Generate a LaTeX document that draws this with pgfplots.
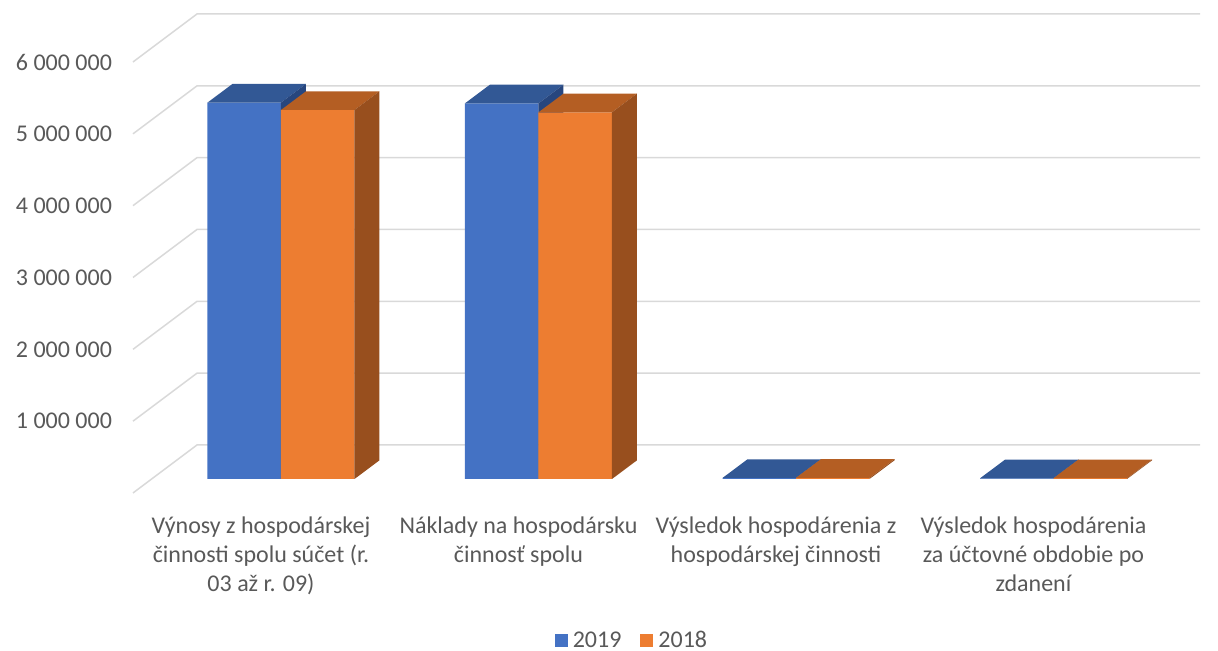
\documentclass[border=0pt]{standalone}
\usepackage{pgfplots}
\usepackage{pgfplotstable}
\pgfplotsset{compat=1.18}
\usepackage{fontspec}
\setmainfont{Carlito}
\definecolor{c19}{HTML}{4472C4}
\definecolor{c19t}{HTML}{325895}
\definecolor{c19s}{HTML}{27467E}
\definecolor{c18}{HTML}{ED7D31}
\definecolor{c18t}{HTML}{B45E23}
\definecolor{c18s}{HTML}{984F1E}
\definecolor{gridc}{HTML}{D9D9D9}
\definecolor{txtc}{HTML}{595959}

\pgfplotstableread{
cat v2019 v2018
0 5240000 5137000
1 5230000 5105000
2 14000 16000
3 9000 11000
}\barsdata

% top and side faces of a 3-D bar: #1 left x, #2 value, #3 top colour, #4 side colour
\newcommand\barfaces[4]{%
  \addplot[fill=#3, draw=none, forget plot] table[row sep=\\,
     x expr={#1+73.5*\thisrow{a}+25*\thisrow{b}},
     y expr={#2+260000*\thisrow{b}}] {a b\\ 0 0\\ 1 0\\ 1 1\\ 0 1\\};
  \addplot[fill=#4, draw=none, forget plot] table[row sep=\\,
     x expr={#1+73.5+25*\thisrow{b}},
     y expr={#2*\thisrow{c}+260000*\thisrow{b}}] {b c\\ 0 0\\ 1 0\\ 1 1\\ 0 1\\};
}

\begin{document}
\begin{tikzpicture}
\begin{axis}[
  scale only axis, width=533.5pt, height=239.5pt,
  xmin=133, xmax=1200, ymin=-194900, ymax=6473300,
  clip=false,
  axis line style={draw=none}, tick style={draw=none},
  scaled y ticks=false,
  ytick={805100,1805100,2805100,3805100,4805100,5805100},
  yticklabels={1 000 000,2 000 000,3 000 000,4 000 000,5 000 000,6 000 000},
  yticklabel style={font=\fontsize{12}{14.5}\selectfont, text=txtc, anchor=east, xshift=-7pt},
  xtick={261,518.5,776,1033.5},
  xticklabels={{Výnosy z hospodárskej\\činnosti spolu súčet (r.\\03 až r. 09)},
               {Náklady na hospodársku\\činnosť spolu},
               {Výsledok hospodárenia z\\hospodárskej činnosti},
               {Výsledok hospodárenia\\za účtovné obdobie po\\zdanení}},
  xticklabel style={font=\fontsize{12}{14.5}\selectfont, text=txtc, align=center, yshift=-8.5pt},
  legend style={at={(rel axis cs:0.469,-0.309)}, anchor=center, draw=none,
    font=\fontsize{12}{14.5}\selectfont, text=txtc, legend columns=-1,
    /tikz/every even column/.append style={column sep=7pt},
    nodes={inner sep=2.5pt}},
]
% gridlines (front diagonal + back wall)
\pgfplotsinvokeforeach{0,...,6}{
  \addplot[gridc, line width=0.75pt, forget plot] table[row sep=\\, x index=0,
    y expr={#1*1000000+\thisrow{d}}] {x d\\ 133 -194900\\ 197 473300\\ 1200 473300\\};
}
% 2019 series
\addplot[ybar, bar width=73.5, bar shift=0pt, fill=c19, draw=none,
  legend image code/.code={\fill[c19] (0pt,-3pt) rectangle (6.5pt,3.5pt);}]
  table[x expr={244.25+257.5*\thisrow{cat}}, y=v2019] {\barsdata};
\addlegendentry{2019}
\pgfplotsinvokeforeach{0,...,3}{
  \pgfplotstablegetelem{#1}{v2019}\of\barsdata
  \edef\vA{\pgfplotsretval}
  \barfaces{207.5+257.5*#1}{\vA}{c19t}{c19s}
}
% 2018 series
\addplot[ybar, bar width=73.5, bar shift=0pt, fill=c18, draw=none,
  legend image code/.code={\fill[c18] (0pt,-3pt) rectangle (6.5pt,3.5pt);}]
  table[x expr={317.75+257.5*\thisrow{cat}}, y=v2018] {\barsdata};
\addlegendentry{2018}
\pgfplotsinvokeforeach{0,...,3}{
  \pgfplotstablegetelem{#1}{v2018}\of\barsdata
  \edef\vB{\pgfplotsretval}
  \barfaces{281+257.5*#1}{\vB}{c18t}{c18s}
}
\coordinate (bbA) at (rel axis cs:-0.124649,-0.329854);
\coordinate (bbB) at (rel axis cs:1.016870,1.029228);
\end{axis}
\pgfresetboundingbox
\useasboundingbox (bbA) rectangle (bbB);
\end{tikzpicture}
\end{document}
